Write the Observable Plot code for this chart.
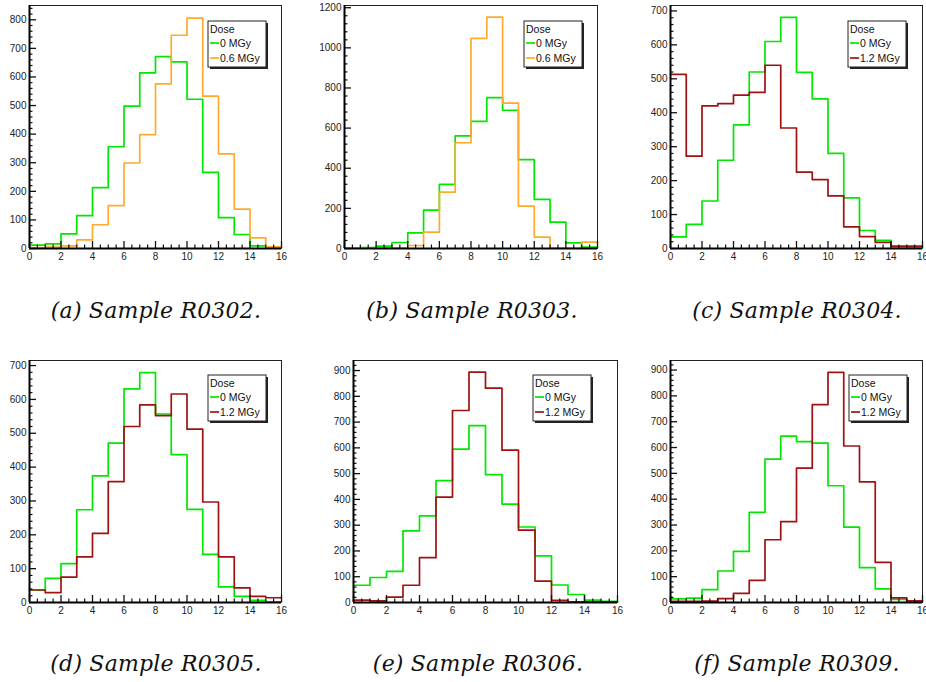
<!DOCTYPE html>
<html>
<head>
<meta charset="utf-8">
<script src="https://cdn.jsdelivr.net/npm/d3@7"></script>
<script src="https://cdn.jsdelivr.net/npm/@observablehq/plot@0.6"></script>
<style>
  html, body { margin: 0; padding: 0; background: #fff; }
  #root { position: relative; width: 926px; height: 682px; overflow: hidden; background: #fff; }
  .panel { position: absolute; }
  .caption { position: absolute; transform: translate(-50%, -50%); white-space: nowrap;
    font-family: "DejaVu Serif", serif; font-style: italic; font-size: 22px; letter-spacing: 0.2px; color: #111; }
</style>
</head>
<body>
<div id="root"></div>
<script>
// ---- Data (bin i covers [i, i+1), 16 bins from 0 to 16) ----
const captions = ["(a) Sample R0302.", "(b) Sample R0303.", "(c) Sample R0304.",
                  "(d) Sample R0305.", "(e) Sample R0306.", "(f) Sample R0309."];
const legendTitle = "Dose";
const doseLabels = [["0 MGy", "0.6 MGy"], ["0 MGy", "0.6 MGy"], ["0 MGy", "1.2 MGy"],
                    ["0 MGy", "1.2 MGy"], ["0 MGy", "1.2 MGy"], ["0 MGy", "1.2 MGy"]];
const xTickLabels = [0, 2, 4, 6, 8, 10, 12, 14, 16];

const r0302_0  = [12, 16, 51, 115, 213, 356, 498, 614, 671, 653, 522, 266, 108, 49, 9, 3];
const r0302_06 = [3, 5, 9, 30, 83, 150, 299, 398, 576, 746, 806, 533, 331, 138, 37, 6];
const r0303_0  = [3, 5, 12, 30, 78, 191, 320, 561, 634, 752, 689, 443, 245, 131, 28, 7];
const r0303_06 = [3, 2, 3, 2, 15, 82, 281, 527, 1047, 1153, 724, 211, 57, 2, 2, 32];
const r0304_0  = [34, 71, 140, 260, 364, 520, 610, 681, 519, 441, 280, 149, 53, 24, 5, 2];
const r0304_12 = [513, 272, 420, 427, 452, 460, 540, 355, 225, 203, 155, 64, 35, 18, 7, 7];
const r0305_0  = [37, 71, 115, 274, 374, 471, 631, 679, 557, 437, 275, 142, 46, 18, 6, 2];
const r0305_12 = [37, 29, 75, 135, 204, 357, 520, 584, 552, 616, 512, 297, 135, 43, 18, 14];
const r0306_0  = [67, 97, 121, 278, 336, 473, 595, 686, 496, 382, 293, 181, 68, 31, 9, 4];
const r0306_12 = [9, 6, 21, 67, 174, 409, 745, 894, 832, 591, 281, 83, 8, 3, 3, 3];
const r0309_0  = [14, 17, 50, 122, 198, 349, 555, 644, 623, 617, 452, 292, 135, 53, 12, 6];
const r0309_12 = [4, 4, 5, 15, 35, 86, 243, 313, 520, 766, 891, 606, 467, 155, 18, 6];

// ---- Styling / layout ----
const GREEN = "#00e800", ORANGE = "#ffaa2e", DARKRED = "#a01212";
const panels = [
  {left: 0,   top: 0,   w: 300, h: 275, ml: 29, mr: 19, mt: 5,  mb: 27, ymax: 850,  major: 100, minor: 20, series: [r0302_0, r0302_06], colors: [GREEN, ORANGE],  leg: [208, 21]},
  {left: 310, top: 0,   w: 310, h: 275, ml: 34, mr: 23, mt: 5,  mb: 27, ymax: 1211, major: 200, minor: 40, series: [r0303_0, r0303_06], colors: [GREEN, ORANGE],  leg: [214, 21]},
  {left: 620, top: 0,   w: 306, h: 275, ml: 50, mr: 4,  mt: 5,  mb: 27, ymax: 716,  major: 100, minor: 20, series: [r0304_0, r0304_12], colors: [GREEN, DARKRED], leg: [228, 21]},
  {left: 0,   top: 350, w: 300, h: 280, ml: 29, mr: 19, mt: 10, mb: 28, ymax: 715,  major: 100, minor: 20, series: [r0305_0, r0305_12], colors: [GREEN, DARKRED], leg: [208, 25]},
  {left: 310, top: 350, w: 310, h: 280, ml: 43, mr: 3,  mt: 10, mb: 28, ymax: 939,  major: 100, minor: 20, series: [r0306_0, r0306_12], colors: [GREEN, DARKRED], leg: [223, 25]},
  {left: 620, top: 350, w: 306, h: 280, ml: 50, mr: 4,  mt: 10, mb: 28, ymax: 937,  major: 100, minor: 20, series: [r0309_0, r0309_12], colors: [GREEN, DARKRED], leg: [229, 25]}
];
const captionPos = [[156, 310], [472, 310], [797, 310], [156, 663], [478, 663], [797, 663]];

function steps(vals) {
  return vals.map((v, i) => ({x: i, y: v})).concat([{x: vals.length, y: vals[vals.length - 1]}]);
}

const root = document.getElementById("root");

panels.forEach((p, k) => {
  const yMajorTicks = d3.range(0, p.ymax + 0.01, p.major);
  const yMinorTicks = d3.range(0, p.ymax + 0.01, p.minor).filter(v => v % p.major !== 0);
  const xMinorTicks = d3.range(0, 16.01, 0.5).filter(v => v % 2 !== 0);

  const chart = Plot.plot({
    width: p.w, height: p.h,
    marginLeft: p.ml, marginRight: p.mr, marginTop: p.mt, marginBottom: p.mb,
    style: {fontFamily: "'Liberation Sans', Arial, sans-serif", fontSize: "10px", color: "#222", background: "transparent", overflow: "visible"},
    x: {domain: [0, 16]},
    y: {domain: [0, p.ymax]},
    marks: [
      Plot.frame({stroke: "#222", strokeWidth: 1}),
      ...p.series.map((s, j) => Plot.line(steps(s), {x: "x", y: "y", curve: "step-after", stroke: p.colors[j], strokeWidth: 1.7})),
      Plot.axisX({ticks: xTickLabels, tickSize: -7, tickPadding: 11, tickFormat: d => String(d), label: null, stroke: "#111", strokeWidth: 1.3}),
      Plot.axisX({ticks: xMinorTicks, tickSize: -3.5, tickFormat: () => "", label: null, stroke: "#111", strokeWidth: 1.2}),
      Plot.axisY({ticks: yMajorTicks, tickSize: -7, tickPadding: 10, tickFormat: d => String(d), label: null, stroke: "#111", strokeWidth: 1.3}),
      Plot.axisY({ticks: yMinorTicks, tickSize: -3.5, tickFormat: () => "", label: null, stroke: "#111", strokeWidth: 1.2}),
      Plot.ruleY([0], {stroke: "#000", strokeWidth: 2}),
      Plot.ruleX([0], {stroke: "#000", strokeWidth: 2})
    ]
  });
  chart.classList.add("panel");
  chart.style.left = p.left + "px";
  chart.style.top = p.top + "px";
  root.appendChild(chart);

  // legend box (ROOT-style with shadow)
  const svg = d3.select(chart);
  const [lx, ly] = p.leg, lw = 58, lh = 46;
  const g = svg.append("g")
    .attr("font-family", "'Liberation Sans', Arial, sans-serif")
    .attr("font-size", "10.5px").attr("fill", "#111").attr("text-anchor", "start");
  g.append("rect").attr("x", lx + 2).attr("y", ly + 2).attr("width", lw).attr("height", lh).attr("fill", "#222");
  g.append("rect").attr("x", lx).attr("y", ly).attr("width", lw).attr("height", lh).attr("fill", "#fff").attr("stroke", "#222").attr("stroke-width", 1);
  g.append("text").attr("x", lx + 2).attr("y", ly + 12).attr("text-anchor", "start").text(legendTitle);
  doseLabels[k].forEach((lab, j) => {
    const yy = ly + 22 + j * 15;
    g.append("line").attr("x1", lx + 2).attr("x2", lx + 11).attr("y1", yy).attr("y2", yy)
      .attr("stroke", p.colors[j]).attr("stroke-width", 1.7);
    g.append("text").attr("x", lx + 12).attr("y", yy + 4).attr("text-anchor", "start").text(lab);
  });
});

captions.forEach((c, k) => {
  const d = document.createElement("div");
  d.className = "caption";
  d.textContent = c;
  d.style.left = captionPos[k][0] + "px";
  d.style.top = captionPos[k][1] + "px";
  root.appendChild(d);
});
</script>
</body>
</html>
